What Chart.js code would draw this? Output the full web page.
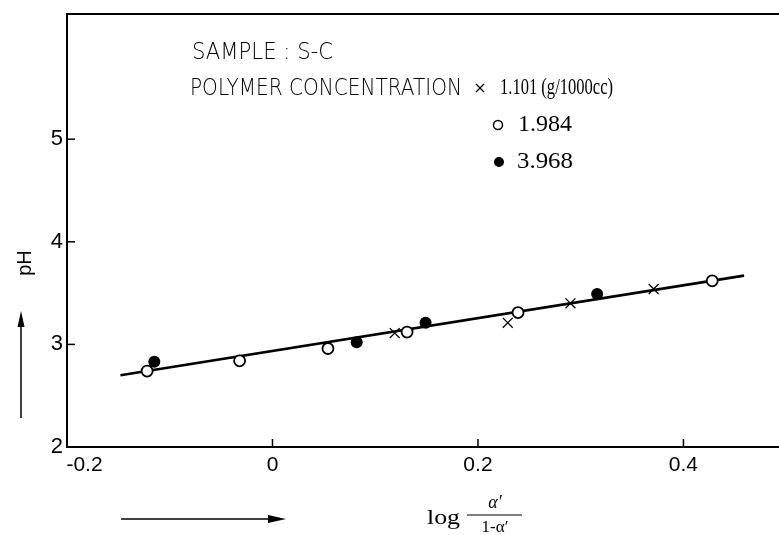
<!DOCTYPE html>
<html>
<head>
<meta charset="utf-8">
<script src="https://cdn.jsdelivr.net/npm/chart.js@4.4.0/dist/chart.umd.min.js"></script>
<style>
  html, body { margin: 0; padding: 0; background: #fff; }
  #wrap { width: 779px; height: 535px; position: relative; }
</style>
</head>
<body>
<div id="wrap"><canvas id="c"></canvas></div>
<script>
// ─── DATA ────────────────────────────────────────────────────────────────
const crossX  = [0.119, 0.229, 0.290, 0.371];
const crossY  = [3.11, 3.21, 3.40, 3.54];
const openX   = [-0.122, -0.032, 0.054, 0.131, 0.239, 0.428];
const openY   = [2.74, 2.84, 2.96, 3.12, 3.31, 3.62];
const filledX = [-0.115, 0.082, 0.149, 0.316];
const filledY = [2.83, 3.02, 3.21, 3.49];
const fitX    = [-0.148, 0.459];
const fitY    = [2.70, 3.67];

const xTicks = [-0.2, 0, 0.2, 0.4];
const yTicks = [2, 3, 4, 5];
const xInnerTicks = [0, 0.2, 0.4];
const yInnerTicks = [3, 4, 5];

const legendLabels = ['1.101 (g/1000cc)', '1.984', '3.968'];

function pts(xs, ys) { return xs.map((x, i) => ({ x: x, y: ys[i] })); }

const SANS = "'Liberation Sans', 'DejaVu Sans', sans-serif";
const THIN = "'DejaVu Sans', 'Liberation Sans', sans-serif";
const SERIF = "'Liberation Serif', 'DejaVu Serif', serif";

// text squeezed to a given width (the original lettering is narrow)
function fitText(ctx, text, x, y, w) {
  const m = ctx.measureText(text).width;
  ctx.save();
  ctx.translate(x, y);
  ctx.scale(w / m, 1);
  ctx.fillText(text, 0, 0);
  ctx.restore();
}

// ─── DECORATION: frame, inner ticks, texts, arrows ───────────────────────
const decor = {
  id: 'decor',
  afterDraw(chart) {
    const ctx = chart.ctx;
    const a = chart.chartArea;
    const xs = chart.scales.x, ys = chart.scales.y;
    ctx.save();
    ctx.strokeStyle = '#000';
    ctx.fillStyle = '#000';

    // top frame line
    ctx.lineWidth = 2;
    ctx.beginPath();
    ctx.moveTo(a.left, a.top);
    ctx.lineTo(a.right, a.top);
    ctx.stroke();

    // inner ticks
    ctx.lineWidth = 1.5;
    xInnerTicks.forEach(v => {
      const px = xs.getPixelForValue(v);
      ctx.beginPath(); ctx.moveTo(px, a.bottom); ctx.lineTo(px, a.bottom - 8); ctx.stroke();
    });
    yInnerTicks.forEach(v => {
      const py = ys.getPixelForValue(v);
      ctx.beginPath(); ctx.moveTo(a.left, py); ctx.lineTo(a.left + 8, py); ctx.stroke();
    });

    // annotation texts
    ctx.textBaseline = 'middle';
    ctx.textAlign = 'left';
    ctx.font = "200 23px " + THIN;
    fitText(ctx, 'SAMPLE : S-C', 192, 53, 141);
    fitText(ctx, 'POLYMER CONCENTRATION', 190, 89, 272);

    // legend
    const marks = [
      { kind: 'cross',  x: 480, y: 88,  tx: 500, w: 113 },
      { kind: 'open',   x: 498, y: 125, tx: 518, w: 54 },
      { kind: 'filled', x: 499, y: 162, tx: 517, w: 56 }
    ];
    marks.forEach((m, i) => {
      if (m.kind === 'cross') {
        ctx.lineWidth = 1.3;
        ctx.beginPath();
        ctx.moveTo(m.x - 4, m.y - 4); ctx.lineTo(m.x + 4, m.y + 4);
        ctx.moveTo(m.x + 4, m.y - 4); ctx.lineTo(m.x - 4, m.y + 4);
        ctx.stroke();
      } else {
        ctx.lineWidth = 1.5;
        ctx.beginPath();
        ctx.arc(m.x, m.y, m.kind === 'filled' ? 5 : 4.5, 0, Math.PI * 2);
        if (m.kind === 'filled') ctx.fill(); else ctx.stroke();
      }
      ctx.font = "23px " + SERIF;
      fitText(ctx, legendLabels[i], m.tx, m.y, m.w);
    });

    // y title
    ctx.save();
    ctx.translate(25, 263);
    ctx.rotate(-Math.PI / 2);
    ctx.textAlign = 'center';
    ctx.font = "20px " + SANS;
    ctx.fillText('pH', 0, 0);
    ctx.restore();

    // up arrow
    ctx.lineWidth = 1.5;
    ctx.beginPath(); ctx.moveTo(21, 418); ctx.lineTo(21, 318); ctx.stroke();
    ctx.beginPath(); ctx.moveTo(21, 311); ctx.lineTo(17.5, 327); ctx.lineTo(24.5, 327); ctx.closePath(); ctx.fill();

    // right arrow
    ctx.beginPath(); ctx.moveTo(121, 519); ctx.lineTo(278, 519); ctx.stroke();
    ctx.beginPath(); ctx.moveTo(286, 519); ctx.lineTo(268, 515); ctx.lineTo(268, 523); ctx.closePath(); ctx.fill();

    // x title: log α'/(1-α')
    ctx.textAlign = 'left';
    ctx.font = "22px " + SERIF;
    fitText(ctx, 'log', 427, 518, 33);
    ctx.textAlign = 'center';
    ctx.font = "italic 18px " + SERIF;
    ctx.fillText("\u03b1\u2032", 495, 503);
    ctx.font = "17px " + SERIF;
    ctx.fillText("1-\u03b1\u2032", 495, 528);
    ctx.lineWidth = 1.2;
    ctx.beginPath(); ctx.moveTo(467, 515); ctx.lineTo(522, 515); ctx.stroke();

    ctx.restore();
  }
};

new Chart(document.getElementById('c'), {
  type: 'scatter',
  data: {
    datasets: [
      {
        type: 'line',
        data: pts(fitX, fitY),
        borderColor: '#000',
        borderWidth: 2.6,
        pointRadius: 0,
        fill: false,
        order: 5
      },
      {
        data: pts(crossX, crossY),
        pointStyle: 'crossRot',
        pointRadius: 7,
        borderColor: '#000',
        borderWidth: 1.3,
        order: 1
      },
      {
        data: pts(openX, openY),
        pointStyle: 'circle',
        pointRadius: 5.5,
        backgroundColor: '#fff',
        borderColor: '#000',
        borderWidth: 1.8,
        order: 1
      },
      {
        data: pts(filledX, filledY),
        pointStyle: 'circle',
        pointRadius: 6,
        backgroundColor: '#000',
        borderColor: '#000',
        borderWidth: 0,
        order: 1
      }
    ]
  },
  options: {
    responsive: true,
    maintainAspectRatio: false,
    animation: false,
    layout: { autoPadding: false, padding: { top: 14, right: 0, left: 0, bottom: 0 } },
    plugins: { legend: { display: false }, tooltip: { enabled: false } },
    scales: {
      x: {
        type: 'linear',
        min: -0.2, max: 0.493,
        afterBuildTicks: s => { s.ticks = xTicks.map(v => ({ value: v })); },
        afterFit: s => { s.height = 88; s.paddingLeft = 0; s.paddingRight = 0; },
        grid: { display: false, drawTicks: false },
        border: { display: true, color: '#000', width: 2 },
        ticks: {
          color: '#000', padding: 6,
          font: { family: SANS, size: 21 },
          callback: v => (v === 0 ? '0' : (v < 0 ? '\u2007\u2007\u2007' : '') + String(Math.round(v * 10) / 10))
        }
      },
      y: {
        type: 'linear',
        min: 2, max: 6.22,
        afterBuildTicks: s => { s.ticks = yTicks.map(v => ({ value: v })); },
        afterFit: s => { s.width = 67; s.paddingTop = 0; s.paddingBottom = 0; },
        grid: { display: false, drawTicks: false },
        border: { display: true, color: '#000', width: 2 },
        ticks: {
          color: '#000', padding: 4,
          font: { family: SANS, size: 22 }
        }
      }
    }
  },
  plugins: [decor]
});
</script>
</body>
</html>
